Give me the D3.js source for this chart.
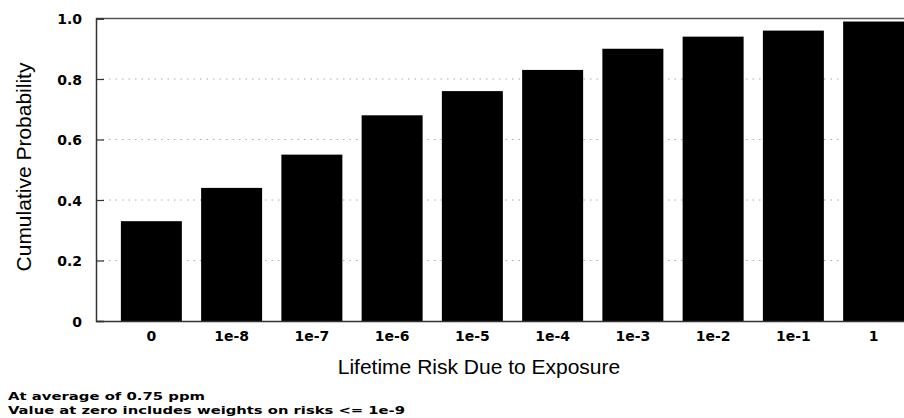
<!DOCTYPE html>
<html>
<head>
<meta charset="utf-8">
<script src="https://cdn.jsdelivr.net/npm/d3@7/dist/d3.min.js"></script>
<style>
  html, body { margin: 0; padding: 0; background: #fff; }
  svg { display: block; }
  .tick-label { font-family: "DejaVu Sans", sans-serif; font-weight: bold; font-size: 14px; fill: #000; }
  .title { font-family: "Liberation Sans", Arial, sans-serif; font-size: 21px; fill: #000; }
  .note { font-family: "DejaVu Sans", sans-serif; font-weight: bold; font-size: 11px; fill: #000; }
</style>
</head>
<body>
<svg id="chart" width="904" height="418"></svg>
<script>
// Risk bins along the x axis
const categories = ["0", "1e-8", "1e-7", "1e-6", "1e-5", "1e-4", "1e-3", "1e-2", "1e-1", "1"];
// Cumulative probability at each bin
const cumulative = [0.33, 0.44, 0.55, 0.68, 0.76, 0.83, 0.90, 0.94, 0.96, 0.99];
// Y axis ticks and their labels
const yTicks = [0, 0.2, 0.4, 0.6, 0.8, 1.0];
const yTickLabels = ["0", "0.2", "0.4", "0.6", "0.8", "1.0"];
// Footnotes
const notes = ["At average of 0.75 ppm", "Value at zero includes weights on risks <= 1e-9"];

const svg = d3.select("#chart");

const plot = { left: 96, right: 929, top: 18.5, bottom: 321 };

const x = d3.scaleBand()
  .domain(categories)
  .range([plot.left, plot.right])
  .paddingInner(0.24)
  .paddingOuter(0.31);

const y = d3.scaleLinear()
  .domain([0, 1])
  .range([plot.bottom, plot.top]);

// Dotted gridlines behind the bars
svg.append("g")
  .selectAll("line")
  .data(yTicks.filter(v => v > 0 && v < 1))
  .join("line")
  .attr("x1", plot.left)
  .attr("x2", plot.right)
  .attr("y1", d => y(d))
  .attr("y2", d => y(d))
  .attr("stroke", "#aaa")
  .attr("stroke-width", 1)
  .attr("stroke-dasharray", "1.5,5");

// Bars
svg.append("g")
  .selectAll("rect")
  .data(categories.map((c, i) => ({ c, v: cumulative[i] })))
  .join("rect")
  .attr("x", d => x(d.c))
  .attr("width", x.bandwidth())
  .attr("y", d => y(d.v))
  .attr("height", d => y(0) - y(d.v))
  .attr("fill", "#000");

// Frame: top edge
svg.append("line")
  .attr("x1", plot.left).attr("x2", plot.right)
  .attr("y1", plot.top).attr("y2", plot.top)
  .attr("stroke", "#555").attr("stroke-width", 1.5);

// Left axis with inward ticks
const yAxis = d3.axisLeft(y)
  .tickValues(yTicks)
  .tickFormat((d, i) => yTickLabels[i])
  .tickSize(-8)
  .tickPadding(14);

const gy = svg.append("g")
  .attr("transform", `translate(${plot.left},0)`)
  .call(yAxis);
gy.select(".domain").attr("stroke", "#333").attr("stroke-width", 1.5);
gy.selectAll(".tick line").attr("stroke", "#333").attr("stroke-width", 1.2);
gy.selectAll(".tick text").attr("class", "tick-label").attr("dy", "0.36em");

// Bottom axis
const xAxis = d3.axisBottom(x).tickSize(0).tickPadding(10);
const gx = svg.append("g")
  .attr("transform", `translate(0,${plot.bottom})`)
  .call(xAxis);
gx.select(".domain").attr("stroke", "#333").attr("stroke-width", 1.5);
gx.selectAll(".tick text").attr("class", "tick-label");

// Axis titles
svg.append("text")
  .attr("class", "title")
  .attr("x", 479)
  .attr("y", 374)
  .attr("text-anchor", "middle")
  .text("Lifetime Risk Due to Exposure");

svg.append("text")
  .attr("class", "title")
  .attr("transform", "translate(31,167) rotate(-90)")
  .attr("text-anchor", "middle")
  .text("Cumulative Probability");

// Footnotes, set tightly below the chart
const noteWidths = [197, 397];
const noteBaselines = [400, 414];
svg.append("g")
  .selectAll("text")
  .data(notes)
  .join("text")
  .attr("class", "note")
  .attr("x", 8)
  .attr("y", (d, i) => noteBaselines[i])
  .attr("textLength", (d, i) => noteWidths[i])
  .attr("lengthAdjust", "spacingAndGlyphs")
  .text(d => d);
</script>
</body>
</html>
